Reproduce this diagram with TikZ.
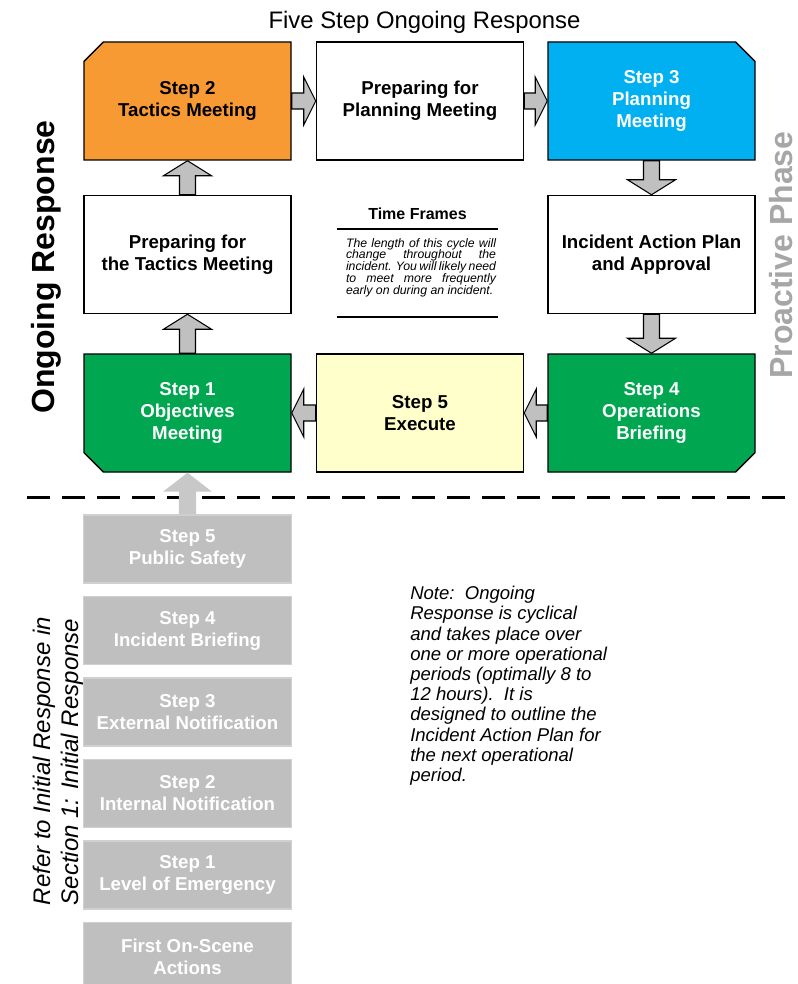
\documentclass[tikz,border=0pt]{standalone}
\usepackage{fontspec}
\setmainfont{Liberation Sans}
\usetikzlibrary{shapes.misc,calc}
\definecolor{corange}{RGB}{248,154,51}
\definecolor{cblue}{RGB}{0,176,240}
\definecolor{cgreen}{RGB}{0,166,80}
\definecolor{cyellow}{RGB}{255,255,204}
\definecolor{carrow}{RGB}{192,192,192}
\definecolor{cgbox}{RGB}{191,191,191}
\definecolor{cgboxline}{RGB}{208,208,208}
\definecolor{cphase}{RGB}{166,166,166}
\definecolor{clight}{RGB}{200,200,200}
% #1 style, #2 start, #3 tip, #4 head length, #5 shaft half width, #6 head half width
\newcommand\flowarr[6]{%
  \coordinate (fa) at (#2);
  \coordinate (fb) at (#3);
  \coordinate (fc) at ($(fb)!#4!(fa)$);
  \draw[#1] ($(fa)!#5!90:(fb)$) -- ($(fc)!#5!90:(fb)$) -- ($(fc)!#6!90:(fb)$) -- (fb)
    -- ($(fc)!#6!-90:(fb)$) -- ($(fc)!#5!-90:(fb)$) -- ($(fa)!#5!-90:(fb)$) -- cycle;}
\begin{document}
\begin{tikzpicture}[x=0.75pt,y=-0.75pt,
  box/.style={draw=black, line width=1.1pt, minimum width=155.25pt, minimum height=88.5pt,
    inner sep=0pt, align=center, font=\fontsize{14}{16.5}\selectfont\bfseries},
  cbox/.style={box, chamfered rectangle, chamfered rectangle xsep=7.5pt,
    chamfered rectangle ysep=7pt, chamfered rectangle corners=#1},
  gbox/.style={fill=cgbox, draw=cgboxline, line width=1.2pt, minimum width=156pt,
    minimum height=51pt, inner sep=0pt, align=center, text=white,
    font=\fontsize{14}{16.5}\selectfont\bfseries},
  flowarrow/.style={fill=carrow, draw=black, line width=0.8pt, line join=miter},
  lightarrow/.style={fill=clight, draw=none}]
\useasboundingbox (0,0) rectangle (797,984);

% title and side labels
\node[anchor=base, font=\fontsize{17.9}{21}\selectfont] (title) at (424.5,29) {Five Step Ongoing Response};
\node[rotate=90, anchor=base, inner sep=0pt, font=\fontsize{24}{28}\selectfont\bfseries] (ong) at (54,267) {Ongoing Response};
\node[rotate=90, anchor=base, inner sep=0pt, text=cphase, font=\fontsize{24}{28}\selectfont\bfseries] (pro) at (792,255) {Proactive Phase};

% cycle boxes
\node[cbox=north west, fill=corange] (s2) at (187.5,101) {Step 2\\Tactics Meeting};
\node[box, fill=white] (pp) at (420,101) {Preparing for\\Planning Meeting};
\node[cbox=north east, fill=cblue, text=white] (s3) at (651.5,101) {Step 3\\Planning\\Meeting};
\node[box, fill=white] (pt) at (187.5,254.5) {Preparing for\\the Tactics Meeting};
\node[box, fill=white] (iap) at (651.5,254.5) {Incident Action Plan\\and Approval};
\node[cbox=south west, fill=cgreen, text=white] (s1) at (187.5,413) {Step 1\\Objectives\\Meeting};
\node[box, fill=cyellow] (s5) at (420,413) {Step 5\\Execute};
\node[cbox=south east, fill=cgreen, text=white] (s4) at (651.5,413) {Step 4\\Operations\\Briefing};

% cycle arrows
\flowarr{flowarrow}{s2.east}{pp.west}{9pt}{6pt}{18pt}
\flowarr{flowarrow}{pp.east}{s3.west}{9pt}{6pt}{18pt}
\flowarr{flowarrow}{s3.south}{iap.north}{11.25pt}{6pt}{18pt}
\flowarr{flowarrow}{iap.south}{s4.north}{11.25pt}{6pt}{18pt}
\flowarr{flowarrow}{s4.west}{s5.east}{9pt}{6pt}{18pt}
\flowarr{flowarrow}{s5.west}{s1.east}{9pt}{6pt}{18pt}
\flowarr{flowarrow}{s1.north}{pt.south}{11.25pt}{6pt}{18pt}
\flowarr{flowarrow}{pt.north}{s2.south}{11.25pt}{6pt}{18pt}

% time frames
\node[font=\fontsize{12}{14}\selectfont\bfseries] (tf) at (417.5,214) {Time Frames};
\draw[line width=1.1pt] (337,229) -- (498,229);
\node[text width=112.5pt, align=justify, inner sep=0pt, font=\fontsize{9.2}{8.8}\selectfont\itshape] (tft) at (421,267.5)
  {The length of this cycle will\linebreak change throughout the\linebreak incident. You will likely need\linebreak to meet more frequently\linebreak early on during an incident.};
\draw[line width=1.1pt] (337,317) -- (498,317);

% dashed separator
\draw[line width=2.25pt, dash pattern=on 17.25pt off 9pt] (27,497) -- (797,497);

% initial response boxes
\node[gbox] (g5) at (187.5,549) {Step 5\\Public Safety};
\node[gbox] (g4) at (187.5,630.5) {Step 4\\Incident Briefing};
\node[gbox] (g3) at (187.5,712) {Step 3\\External Notification};
\node[gbox] (g2) at (187.5,793.5) {Step 2\\Internal Notification};
\node[gbox] (g1) at (187.5,875) {Step 1\\Level of Emergency};
\node[gbox] (g0) at (187.5,956.5) {First On-Scene\\Actions};
\flowarr{lightarrow}{g5.north}{s1.south}{14.25pt}{6.4pt}{18.4pt}

\node[rotate=90, anchor=base west, font=\fontsize{18}{22}\selectfont\itshape] (ref1) at (50,910) {Refer to Initial Response in};
\node[rotate=90, anchor=base west, font=\fontsize{18}{22}\selectfont\itshape] (ref2) at (78,910) {Section 1: Initial Response};

% note
\node[anchor=north west, inner sep=0pt, align=left, font=\fontsize{13.9}{15.15}\selectfont\itshape] (note) at (410,586)
  {Note:\ \ Ongoing\\Response is cyclical\\and takes place over\\one or more operational\\periods (optimally 8 to\\12 hours).\ \ It is\\designed to outline the\\Incident Action Plan for\\the next operational\\period.};
\end{tikzpicture}
\end{document}
